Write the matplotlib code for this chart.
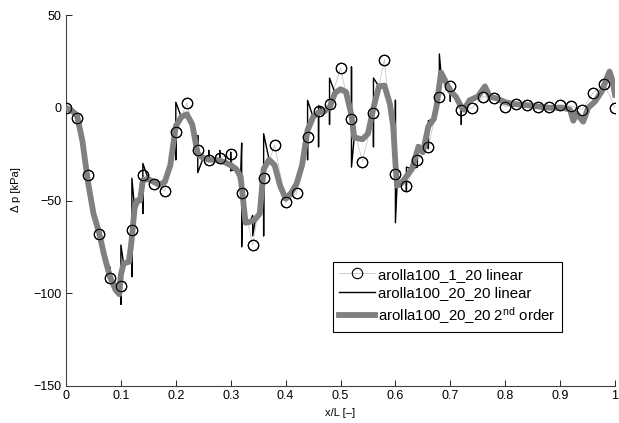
import numpy as np
import matplotlib
matplotlib.use('Agg')
import matplotlib.pyplot as plt

plt.rcParams['font.family'] = ['Liberation Sans', 'DejaVu Sans']
plt.rcParams['mathtext.fontset'] = 'custom'
plt.rcParams['mathtext.rm'] = 'Liberation Sans'
plt.rcParams['mathtext.it'] = 'Liberation Sans'

# arolla100_1_20 linear (circles, every 0.02)
x_coarse = np.linspace(0, 1, 51)
p_coarse = [0, -5.5, -36, -68, -92, -96, -66, -36, -41, -45,
            -13, 2.5, -23, -28, -27, -25, -46, -74, -38, -20,
            -51, -46, -16, -1.5, 2, 21.5, -6, -29, -3, 26,
            -35.5, -42, -28, -21, 6, 12, -1, 0, 6, 5,
            0.5, 2, 1.5, 0.5, 0.5, 1.5, 1, -1, 8, 13, 0]

# arolla100_20_20 2nd order (thick grey)
x_2nd = [0.0, 0.01, 0.02, 0.03, 0.04, 0.05, 0.06, 0.07, 0.08, 0.09,
         0.097, 0.10, 0.105, 0.115, 0.12, 0.125, 0.13, 0.135, 0.14, 0.15,
         0.16, 0.17, 0.18, 0.19, 0.20, 0.21, 0.22, 0.23, 0.24, 0.25,
         0.26, 0.27, 0.28, 0.29, 0.30, 0.31, 0.318, 0.322, 0.327, 0.335,
         0.345, 0.353, 0.36, 0.37, 0.38, 0.39, 0.40, 0.41, 0.42, 0.43,
         0.44, 0.45, 0.46, 0.47, 0.48, 0.49, 0.50, 0.51, 0.52, 0.525,
         0.54, 0.55, 0.56, 0.57, 0.58, 0.59, 0.596, 0.60, 0.603, 0.61,
         0.62, 0.63, 0.642, 0.65, 0.66, 0.67, 0.675, 0.683, 0.69, 0.70,
         0.71, 0.72, 0.725, 0.735, 0.75, 0.763, 0.772, 0.785, 0.80, 0.815,
         0.835, 0.86, 0.88, 0.905, 0.918, 0.924, 0.93, 0.942, 0.951, 0.964,
         0.976, 0.985, 0.99, 0.995, 1.0]
p_2nd = [0, -1.5, -4, -18, -40, -57, -67, -80, -91, -98,
         -100.5, -90, -84, -83, -70, -54, -50, -50, -39, -38.5,
         -40, -41.5, -40, -31, -10, -5, -3.5, -9, -25, -27,
         -28, -28, -28.5, -29.5, -31, -33, -37, -48, -62, -61.5,
         -60, -57, -33, -28, -31, -42, -49, -46, -41, -31,
         -12, -5, -2.5, -2, 0, 8, 10, 8.5, -4, -16,
         -17, -14, 0, 11.5, 12, 2, -10, -30, -42, -41,
         -37, -33, -21, -24, -10, -6, 1, 19, 15, 9,
         6, 0.5, -1, 4, 6, 11.5, 6, 5, 3, 2,
         1.5, 0.7, 0, 0, -1, -7, -3, -7.5, 0, 3.5,
         9, 16, 19.5, 15, 7]

# arolla100_20_20 linear: jumps at element borders
jump_x = [0.08, 0.10, 0.12, 0.14, 0.20, 0.24, 0.26, 0.28, 0.30, 0.32,
          0.34, 0.36, 0.44, 0.46, 0.48, 0.52, 0.56, 0.60, 0.62, 0.64,
          0.66, 0.68, 0.70, 0.72]
jump_a = [-86, -106, -91, -57, -28, -15, -23, -23, -24, -19,
          -58, -69, -28, -21, -9, 22, -21, 4, -45, -32,
          -22, 13, 3.5, -9]
jump_b = [-93, -74, -38, -30, 3, -35, -29, -30, -34, -75,
          -69, -14, 4, 1, 16, -32, 16, -62, -32, -20,
          -7, 29, 11.5, 0.7]

pts = [(x, 0, y) for x, y in zip(x_2nd, p_2nd)]
pts += [(x, 1, y) for x, y in zip(jump_x, jump_a)]
pts += [(x, 2, y) for x, y in zip(jump_x, jump_b)]
pts.sort(key=lambda t: (t[0], t[1]))
x_lin = [t[0] for t in pts]
p_lin = [t[2] for t in pts]

fig = plt.figure(figsize=(6.19, 4.23), dpi=100)
ax = fig.add_axes([0.1066, 0.0875, 0.887, 0.877])

l1, = ax.plot(x_coarse, p_coarse, '-o', color='#c8c8c8', lw=0.6,
              mec='black', mfc='none', ms=7.5, mew=0.8, zorder=1,
              label='arolla100_1_20 linear')
l2, = ax.plot(x_lin, p_lin, '-', color='black', lw=1.0, zorder=2,
              label='arolla100_20_20 linear')
l3, = ax.plot(x_2nd, p_2nd, '-', color='#808080', lw=4.2, zorder=3,
              solid_joinstyle='round',
              label=r'arolla100_20_20 2$^{\mathrm{nd}}$ order')
ax.plot(x_coarse, p_coarse, 'o', mec='black', mfc='none', ms=7.5, mew=0.8,
        zorder=4)

ax.set_xlim(0, 1)
ax.set_ylim(-150, 50)
ax.set_xticks(np.arange(0, 1.01, 0.1))
ax.set_xticklabels(['0', '0.1', '0.2', '0.3', '0.4', '0.5', '0.6', '0.7',
                    '0.8', '0.9', '1'])
ax.set_yticks([-150, -100, -50, 0, 50])
ax.tick_params(direction='in', length=4, width=0.6, labelsize=9, pad=3)
for s in ['top', 'right']:
    ax.spines[s].set_visible(False)
for s in ['left', 'bottom']:
    ax.spines[s].set_linewidth(0.8)
    ax.spines[s].set_color('#404040')

ax.set_xlabel('x/L [–]', fontsize=8, labelpad=4)
ax.set_ylabel('Δ p [kPa]', fontsize=8)
ax.yaxis.set_label_coords(-0.082, 0.53)

leg = ax.legend(handles=[l1, l2, l3], loc='upper right',
                bbox_to_anchor=(0.903, 0.335), fontsize=10.8,
                fancybox=False, framealpha=1, edgecolor='black',
                handlelength=2.45, handletextpad=0.2, labelspacing=0.3,
                borderpad=0.4, borderaxespad=0)
leg.get_frame().set_linewidth(0.8)

plt.savefig('out.png', dpi=100)
